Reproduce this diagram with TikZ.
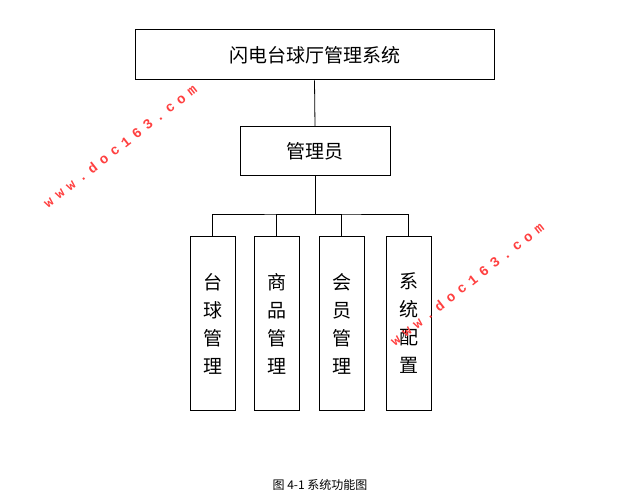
\documentclass[tikz,border=0pt]{standalone}
\usepackage{fontspec}
\setmainfont{Liberation Serif}
\newfontfamily\cjk{Noto Sans CJK SC}
\newfontfamily\wm[LetterSpace=40]{Liberation Mono}
\begin{document}
\begin{tikzpicture}[x=1pt,y=-1pt,
  box/.style={draw,line width=1pt,inner sep=0pt,font=\cjk},
  ln/.style={line width=0.8pt},
  water/.style={text=red!75!white,font=\wm\bfseries\fontsize{14}{14}\selectfont,rotate=38}]
\useasboundingbox (0,0) rectangle (618,502);
\node[box,minimum width=359pt,minimum height=50pt,font=\cjk\fontsize{19}{19}\selectfont] (sys) at (314.5,55) {闪电台球厅管理系统};
\node[box,minimum width=150pt,minimum height=49pt,font=\cjk\fontsize{19}{19}\selectfont] (adm) at (315,151.5) {管理员};
\foreach \n/\x/\t in {a/212.5/台\\球\\管\\理, b/276.5/商\\品\\管\\理, c/341.5/会\\员\\管\\理, d/408.5/系\\统\\配\\置}{
  \node[box,minimum width=45pt,minimum height=173pt,align=center,font=\cjk\fontsize{19}{28}\selectfont] (\n) at (\x,323.5) {\t};
}
\draw[ln] (sys.south) -- (adm.north);
\coordinate (j) at (315,214);
\draw[ln] (adm.south) -- (j);
\draw[ln] (a.north) |- (j) -| (d.north);
\draw[ln] (b.north) |- (j);
\draw[ln] (c.north) |- (j);
\node[font=\cjk\fontsize{12}{12}\selectfont] (cap) at (320,485) {图 4-1 系统功能图};
\node[water] (w1) at (120,146) {www.doc163.com};
\node[water] (w2) at (467,284) {www.doc163.com};
\end{tikzpicture}
\end{document}
